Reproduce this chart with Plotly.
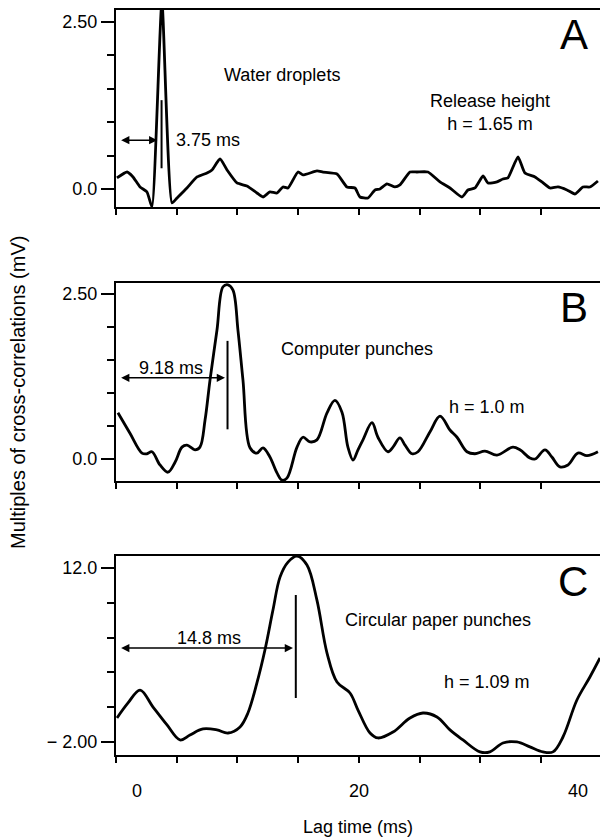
import numpy as np
import plotly.graph_objects as go

# ---------------- data ----------------
lag_a = [0.08, 0.91, 1.40, 1.98, 2.55, 2.96, 3.78, 4.61, 5.02, 5.84, 6.67, 7.49, 7.90, 8.56, 9.14,
         9.96, 10.78, 11.60, 12.10, 12.67, 13.25, 13.74, 14.16, 14.98, 15.39, 16.54, 17.04, 18.19,
         19.01, 19.67, 20.08, 20.74, 21.32, 21.73, 22.30, 22.96, 23.37, 24.20, 24.77, 25.68, 26.67,
         27.49, 28.48, 28.97, 29.55, 30.21, 30.62, 31.36, 31.85, 32.26, 33.09, 33.66, 34.49, 35.06,
         35.72, 36.38, 37.12, 37.78, 38.44, 39.01, 39.67]
val_a = [0.165, 0.254, 0.180, 0.030, -0.045, -0.27, 2.80, -0.21, -0.135, 0.015, 0.18, 0.24, 0.285,
         0.45, 0.285, 0.09, 0.045, -0.06, -0.12, -0.045, -0.06, 0.03, 0.015, 0.254, 0.21, 0.27,
         0.254, 0.225, 0.03, 0.015, -0.12, -0.135, -0.015, 0.0, 0.075, 0.03, 0.06, 0.254, 0.254,
         0.254, 0.105, 0.015, -0.12, -0.015, 0.015, 0.195, 0.09, 0.105, 0.15, 0.165, 0.48, 0.24,
         0.18, 0.105, 0.015, 0.03, -0.015, -0.075, 0.03, 0.03, 0.12]

lag_b = [0.16, 1.15, 2.14, 2.55, 2.96, 3.62, 4.28, 4.86, 5.43, 5.84, 6.50, 6.91, 7.33, 7.74, 8.31,
         8.81, 9.22, 9.63, 10.04, 10.45, 11.03, 11.60, 12.10, 12.67, 13.25, 13.66, 14.07, 14.90,
         15.39, 15.97, 16.54, 17.37, 18.02, 18.60, 19.09, 19.51, 19.92, 20.33, 21.07, 21.56, 22.39,
         22.80, 23.37, 23.79, 24.36, 24.86, 25.84, 26.67, 27.49, 28.07, 28.89, 29.55, 30.37, 31.36,
         32.67, 33.25, 34.07, 34.49, 35.31, 35.88, 36.54, 37.20, 38.02, 38.77, 39.67]
val_b = [0.70, 0.39, 0.09, 0.08, 0.11, -0.09, -0.20, -0.05, 0.18, 0.21, 0.14, 0.18, 0.59, 1.20, 1.95,
         2.61, 2.64, 2.56, 1.95, 1.20, 0.17, 0.09, 0.17, 0.03, -0.21, -0.32, -0.29, 0.18, 0.33, 0.26,
         0.29, 0.70, 0.89, 0.71, 0.18, -0.015, 0.14, 0.29, 0.55, 0.33, 0.11, 0.18, 0.32, 0.21, 0.08,
         0.11, 0.41, 0.65, 0.44, 0.33, 0.11, 0.08, 0.12, 0.06, 0.18, 0.14, 0.015, 0.0, 0.14, 0.03,
         -0.12, -0.09, 0.09, 0.05, 0.11]

lag_c = [0.08, 0.99, 1.98, 3.05, 4.20, 5.27, 6.09, 7.16, 8.31, 9.22, 10.21, 10.86, 11.60, 12.26,
         12.92, 13.50, 14.16, 14.90, 15.72, 16.54, 17.37, 18.19, 19.26, 19.92, 20.91, 21.56, 22.80,
         24.20, 25.27, 26.42, 27.49, 28.56, 29.96, 30.78, 31.85, 33.00, 34.07, 35.14, 35.97, 36.79,
         37.94, 39.01, 39.84]
val_c = [-0.07, 1.14, 2.18, 0.81, -0.63, -1.84, -1.44, -0.95, -1.03, -1.28, -0.79, 0.33, 2.75, 5.40,
         8.62, 11.27, 12.48, 12.96, 12.24, 9.42, 5.16, 2.83, 1.94, 0.57, -1.28, -1.68, -1.20, -0.07,
         0.33, 0.01, -1.03, -1.84, -2.80, -2.80, -2.08, -2.00, -2.40, -2.80, -2.80, -1.60, 1.38,
         3.23, 4.76]

panel_letters = ["A", "B", "C"]
sample_names = ["Water droplets", "Computer punches", "Circular paper punches"]
height_labels = ["Release height<br>h = 1.65 m", "h = 1.0 m", "h = 1.09 m"]
peak_lags = [3.75, 9.18, 14.8]
peak_labels = ["3.75 ms", "9.18 ms", "14.8 ms"]
y_major = [[0.0, 2.5], [0.0, 2.5], [-2.0, 12.0]]
y_major_text = [["0.0", "2.50"], ["0.0", "2.50"], ["\u2212 2.00", "12.0"]]
x_tick_values = [0, 20, 40]
x_tick_text = ["0", "20", "40"]
x_minor_step = 5

# ---------------- style / layout ----------------
FONT = "Liberation Sans, Arial, Helvetica, sans-serif"
W, H = 600, 840
x_left_px = 116
x_right_px = 600
x_range = [0, 39.84]
y_ranges = [[-0.27, 2.68], [-0.333, 2.667], [-3.05, 12.97]]
y_px = [(10, 207), (283, 481), (556, 755)]  # top, bottom in pixels

name_pos = [(13.66, 1.71), (19.84, 1.67), (26.5, 7.81)]
height_pos = [(30.78, 1.14), (30.53, 0.79), (30.53, 2.83)]
letter_pos = [(37.7, 2.31), (37.7, 2.30), (37.6, 10.95)]
plabel_pos = [(7.57, 0.73), (4.53, 1.38), (7.65, 6.37)]
arrow_y = [0.73, 1.23, 5.56]
arrow_end = [3.40, 8.97, 14.57]
vline_y = [(0.31, 1.33), (0.45, 1.79), (1.54, 9.83)]

lags = [lag_a, lag_b, lag_c]
vals = [val_a, val_b, val_c]
smooth = [0.5, 1.0, 1.0]

TXT = dict(size=18, color="black", family=FONT)

fig = go.Figure()
annotations = []
shapes = []
layout_axes = {}

for i in range(3):
    sx = "" if i == 0 else str(i + 1)
    xa, ya = "x" + sx, "y" + sx
    fig.add_trace(go.Scatter(
        x=lags[i], y=vals[i], mode="lines",
        line=dict(color="black", width=2.8, shape="spline", smoothing=smooth[i]),
        xaxis=xa, yaxis=ya, showlegend=False, hoverinfo="skip"))

    top, bot = y_px[i]
    ydom = [1 - bot / H, 1 - top / H]
    lo, hi = y_major[i]
    minor_vals = list(np.linspace(lo, hi, 6)[1:-1])

    layout_axes["xaxis" + sx] = dict(
        domain=[x_left_px / W, x_right_px / W], range=x_range, anchor=ya,
        showline=True, linewidth=2.4, linecolor="black", mirror=True,
        ticks="outside", tickvals=list(range(0, 41, x_minor_step)), ticklen=6,
        tickwidth=1.8, tickcolor="black", showticklabels=False,
        showgrid=False, zeroline=False, fixedrange=True)
    layout_axes["yaxis" + sx] = dict(
        domain=ydom, range=y_ranges[i], anchor=xa,
        showline=True, linewidth=2.4, linecolor="black", mirror=False,
        ticks="outside", tickvals=y_major[i], ticktext=y_major_text[i],
        ticklen=13, tickwidth=1.8, tickcolor="black",
        minor=dict(tickvals=minor_vals, ticks="outside", ticklen=7, tickwidth=1.8,
                   tickcolor="black", showgrid=False),
        tickfont=TXT,
        showgrid=False, zeroline=False, fixedrange=True)

    for pos, txt, fnt in ((name_pos[i], sample_names[i], TXT),
                          (height_pos[i], height_labels[i], TXT),
                          (letter_pos[i], panel_letters[i], dict(size=42, color="black", family=FONT)),
                          (plabel_pos[i], peak_labels[i], TXT)):
        annotations.append(dict(xref=xa, yref=ya, x=pos[0], y=pos[1], text=txt,
                                showarrow=False, xanchor="center", yanchor="middle", font=fnt))
    # double arrow from lag 0 to the peak lag
    annotations.append(dict(xref=xa, yref=ya, axref=xa, ayref=ya,
                            x=arrow_end[i], y=arrow_y[i], ax=0.3, ay=arrow_y[i],
                            text="", showarrow=True, arrowhead=2, startarrowhead=2,
                            arrowside="end+start", arrowsize=1.1, startarrowsize=1.1,
                            arrowwidth=1.5, arrowcolor="black", standoff=0, startstandoff=0))
    # vertical marker at the peak lag
    shapes.append(dict(type="line", xref=xa, yref=ya, x0=peak_lags[i], x1=peak_lags[i],
                       y0=vline_y[i][0], y1=vline_y[i][1],
                       line=dict(color="black", width=2)))

# x tick labels of the bottom panel (placed through the axis scale, nudged like the original)
px_per_ms = (x_right_px - x_left_px) / (x_range[1] - x_range[0])
nudge_px = [21, 0, -24]
for v, t, n in zip(x_tick_values, x_tick_text, nudge_px):
    xp = (x_left_px + (v - x_range[0]) * px_per_ms) / W
    annotations.append(dict(xref="paper", yref="paper", x=xp, y=1 - 791 / H, xshift=n,
                            xanchor="center", yanchor="middle",
                            text=t, showarrow=False, font=TXT))

# axis titles
annotations.append(dict(xref="paper", yref="paper", x=358 / W, y=1 - 827 / H,
                        xanchor="center", yanchor="middle",
                        text="Lag time (ms)", showarrow=False, font=TXT))
annotations.append(dict(xref="paper", yref="paper", x=18 / W, y=1 - 393 / H,
                        xanchor="center", yanchor="middle",
                        text="Multiples of cross-correlations (mV)", showarrow=False,
                        textangle=-90, font=dict(size=20, color="black", family=FONT)))

fig.update_layout(
    width=W, height=H, margin=dict(l=0, r=0, t=0, b=0),
    paper_bgcolor="white", plot_bgcolor="white",
    font=dict(family=FONT, color="black"),
    annotations=annotations, shapes=shapes, showlegend=False,
    **layout_axes)

fig.write_html("out.html", config={"displayModeBar": False})
